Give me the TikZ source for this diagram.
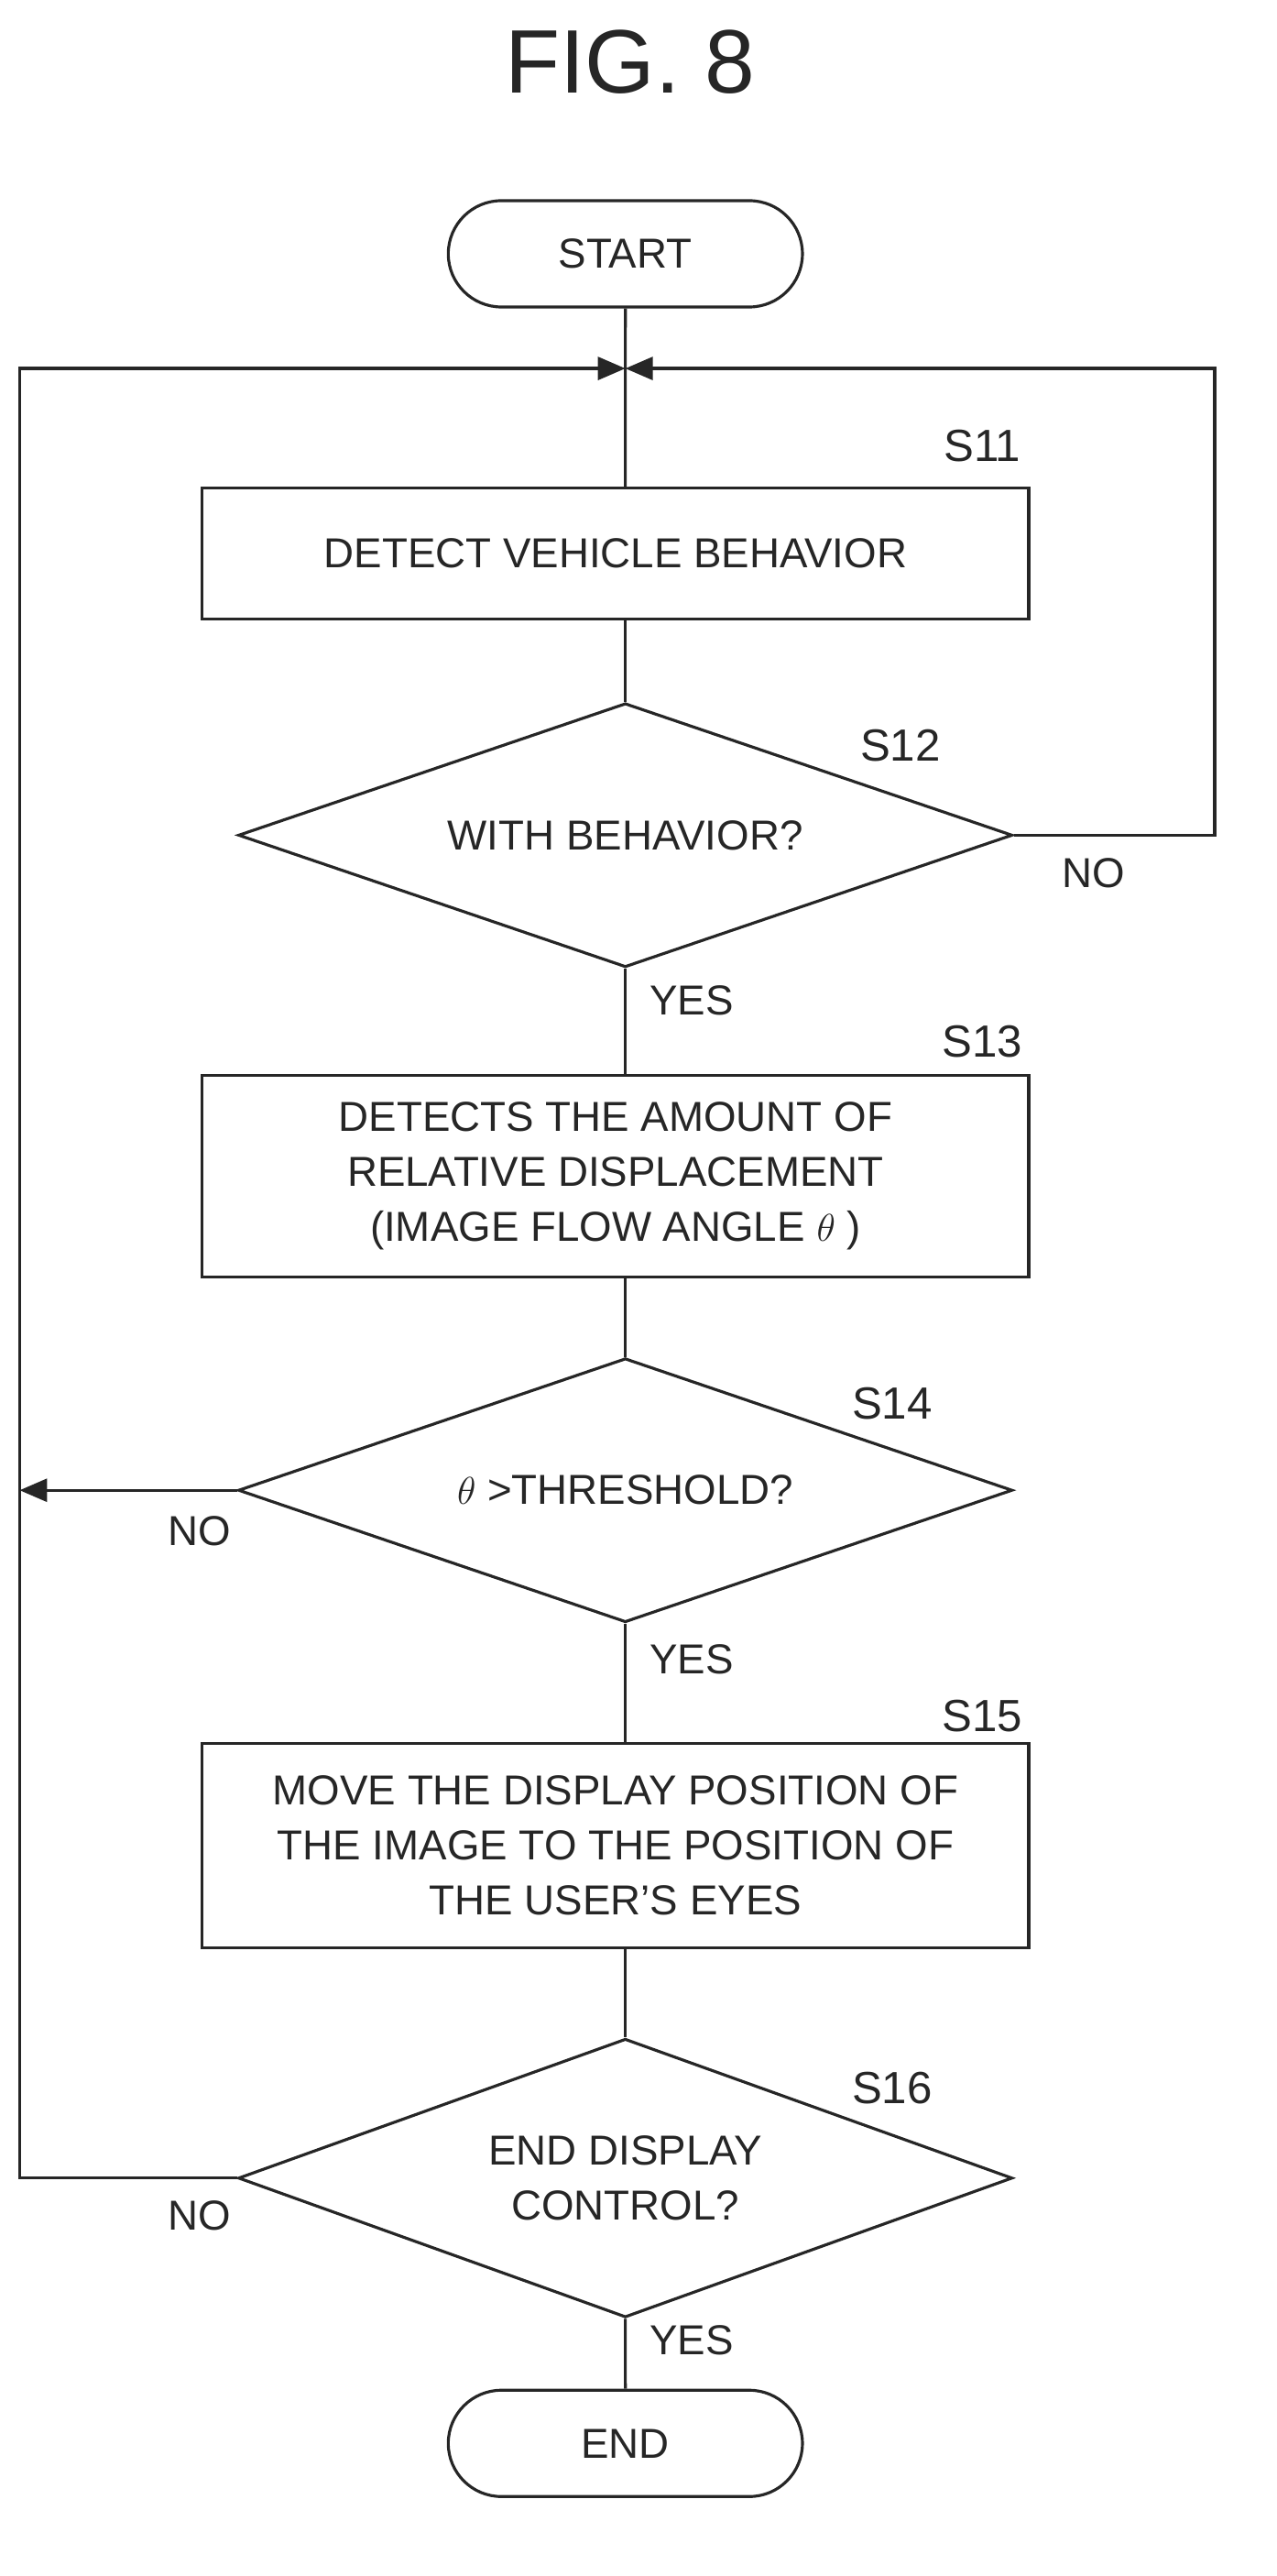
\documentclass[tikz,border=0pt]{standalone}
\usepackage{fontspec}
\setmainfont{Liberation Sans}
\usetikzlibrary{shapes.geometric, shapes.misc, arrows.meta, positioning}
\tikzset{
    termnode/.style = {draw, rounded rectangle, minimum width=4.1cm, minimum height=1.16cm, font=\fontsize{13}{16}\selectfont},
    boxnode/.style = {draw, rectangle, minimum width=9.02cm, align=center, font=\fontsize{13}{17}\selectfont},
    decnode/.style = {draw, diamond, aspect=2.95, inner sep=0pt, minimum width=8.45cm, minimum height=2.88cm, align=center, font=\fontsize{13}{17}\selectfont},
    textnode/.style = {draw=none, inner sep=0pt, font=\fontsize{13}{16}\selectfont},
    steplabel/.style = {draw=none, inner sep=0pt, font=\fontsize{14}{16}\selectfont},
    connect/.style = {-{Triangle[length=0.3cm,width=0.25cm]}},
    every path/.style = {line width=0.9pt, color=black!85}
}
\begin{document}
\begin{tikzpicture}[x=0.01787cm, y=-0.01787cm]
    \useasboundingbox (0,0) rectangle (780,1573);
    \node [name=title, textnode, font=\fontsize{28}{32}\selectfont] at (385,38) {FIG. 8};

    \node [name=start, termnode] at (382,155) {START};
    \coordinate (merge) at (382,225);
    \node [name=s11, boxnode, minimum height=1.43cm] at (376,338) {DETECT VEHICLE BEHAVIOR};
    \node [name=s12, decnode] at (382,510) {WITH BEHAVIOR?};
    \node [name=s13, boxnode, minimum height=2.2cm] at (376,718) {DETECTS THE AMOUNT OF\\RELATIVE DISPLACEMENT\\(IMAGE FLOW ANGLE $\theta$ )};
    \node [name=s14, decnode] at (382,910) {$\theta$ >THRESHOLD?};
    \node [name=s15, boxnode, minimum height=2.23cm] at (376,1127) {MOVE THE DISPLAY POSITION OF\\THE IMAGE TO THE POSITION OF\\THE USER'S EYES};
    \node [name=s16, decnode, minimum height=3.04cm] at (382,1330) {END DISPLAY\\CONTROL?};
    \node [name=end, termnode] at (382,1492) {END};

    % step labels
    \node [steplabel] at (600,272) {S11};
    \node [steplabel] at (550,455) {S12};
    \node [steplabel] at (600,636) {S13};
    \node [steplabel] at (545,857) {S14};
    \node [steplabel] at (600,1048) {S15};
    \node [steplabel] at (545,1275) {S16};

    % main flow
    \draw (start) -- (merge) -- (merge |- s11.north);
    \draw (merge |- s11.south) -- (s12);
    \draw (s12) -- node[textnode, right=0.25cm, pos=0.3] {YES} (merge |- s13.north);
    \draw (merge |- s13.south) -- (s14);
    \draw (s14) -- node[textnode, right=0.25cm, pos=0.3] {YES} (merge |- s15.north);
    \draw (merge |- s15.south) -- (s16);
    \draw (s16) -- node[textnode, right=0.25cm, pos=0.3] {YES} (end);

    % loops
    \coordinate (rtop) at (742,225);
    \coordinate (ltop) at (12,225);
    \coordinate (lmid) at (12,910);
    \draw [connect] (s12.east) -| (rtop) -- (merge);
    \node [textnode] at (668,533) {NO};
    \draw [connect] (s16.west) -| (ltop) -- (merge);
    \node [textnode] at (122,1353) {NO};
    \draw [connect] (s14.west) -- (lmid);
    \node [textnode] at (122,935) {NO};
\end{tikzpicture}
\end{document}
